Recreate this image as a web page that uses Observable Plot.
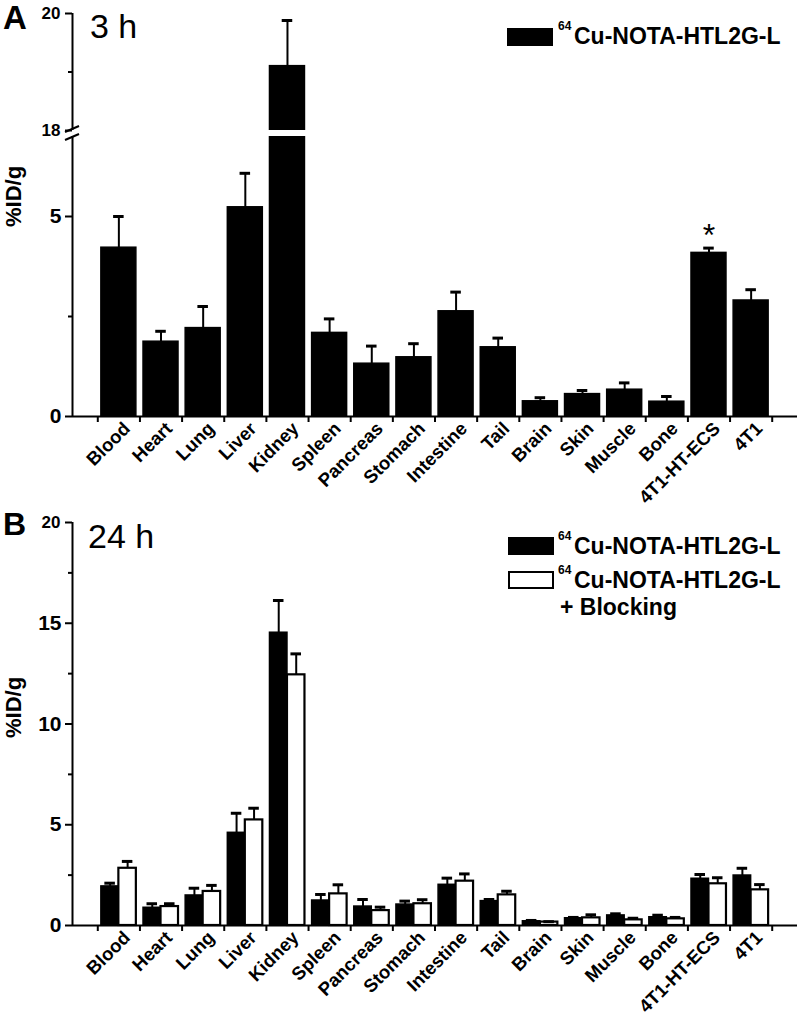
<!DOCTYPE html>
<html><head><meta charset="utf-8">
<script src="https://cdn.jsdelivr.net/npm/d3@7"></script>
<script src="https://cdn.jsdelivr.net/npm/@observablehq/plot@0.6"></script>
<style>
html,body{margin:0;padding:0;background:#fff;}
#fig{position:relative;width:800px;height:1017px;overflow:hidden;font-family:"Liberation Sans",Arial,sans-serif;color:#000;}
.panel{position:absolute;left:0;width:800px;}
.panel svg{display:block;}
.t{position:absolute;white-space:nowrap;line-height:normal;}
.sw{position:absolute;box-sizing:border-box;width:46px;height:18px;border:2px solid #000;}
</style></head><body>
<div id="fig">
<div id="panelA" class="panel" style="top:0"></div>
<div id="panelB" class="panel" style="top:508px"></div>
</div>
<script>
// ---- data ----
const organs = ["Blood","Heart","Lung","Liver","Kidney","Spleen","Pancreas","Stomach","Intestine","Tail","Brain","Skin","Muscle","Bone","4T1-HT-ECS","4T1"];
const mean3h = [4.22,1.87,2.21,5.23,19.1,2.09,1.32,1.48,2.63,1.73,0.38,0.56,0.67,0.37,4.09,2.90];
const sd3h   = [0.78,0.26,0.54,0.85,0.78,0.35,0.44,0.34,0.48,0.23,0.09,0.09,0.17,0.13,0.12,0.27];
const mean24h = [1.94,0.88,1.49,4.60,14.53,1.24,0.94,1.04,2.02,1.21,0.21,0.36,0.50,0.41,2.32,2.48];
const sd24h   = [0.16,0.20,0.36,0.97,1.60,0.30,0.35,0.17,0.33,0.08,0.04,0.04,0.08,0.10,0.21,0.36];
const mean24hBlock = [2.84,0.94,1.69,5.24,12.44,1.57,0.74,1.08,2.20,1.52,0.17,0.38,0.28,0.33,2.07,1.77];
const sd24hBlock   = [0.34,0.14,0.30,0.58,1.04,0.45,0.17,0.20,0.36,0.18,0.02,0.15,0.08,0.07,0.30,0.26];
const yTicksA = [0, 5];
const yTicksATop = [18, 20];
const yMinorA = [2.5, 19];
const yTicksB = [0, 5, 10, 15];
const yTicksBTop = [20];
const yMinorB = [2.5, 7.5, 12.5, 17.5];
const breakLow = 7, breakHigh = 18;
const seriesNames = ["Cu-NOTA-HTL2G-L", "Cu-NOTA-HTL2G-L"];
const significant = "4T1-HT-ECS";

// ---- layout helpers ----
const xDomain = [-0.1, 17.1];
const halfBar = 0.415, cap = 0.125;
const bounds = organs.map((d, i) => i + 0.5).concat([organs.length + 0.5]);
const font = "Liberation Sans, Arial, sans-serif";

const rowsA = organs.map((organ, i) => ({organ, pos: i + 1, mean: mean3h[i], sd: sd3h[i]}));
const rowsB = organs.map((organ, i) => ({organ, pos: i + 1, mean: mean24h[i], sd: sd24h[i], meanB: mean24hBlock[i], sdB: sd24hBlock[i]}));

const common = {
  width: 800, marginLeft: 72, marginRight: 3, marginBottom: 92,
  style: {fontFamily: font, fontWeight: "bold", fontSize: "19px", color: "black", background: "white", overflow: "visible"}
};

function xLabels(rows) {
  return Plot.text(rows, {x: "pos", y: () => 0, text: "organ", rotate: -45, textAnchor: "end", lineAnchor: "top",
    dx: 3, dy: 4, fontSize: 18.5, fontWeight: "bold"});
}
function yLabel(dy) {
  return Plot.text(["%ID/g"], {frameAnchor: "left", text: d => d, rotate: -90, dx: -59, dy, fontSize: 22, fontWeight: "bold"});
}
function axes(ticks, topTicks, minor) {
  return [
    Plot.axisY(ticks, {tickSize: 7, tickPadding: 4, strokeWidth: 2, tickFormat: d => String(d), label: null, fontSize: 21, fontWeight: "bold"}),
    Plot.axisY(topTicks, {tickSize: 7, tickPadding: 5, strokeWidth: 2, tickFormat: d => String(d), label: null, fontSize: 17, fontWeight: "bold"}),
    Plot.axisY(minor, {tickSize: 4, strokeWidth: 2, tickFormat: () => "", label: null}),
    Plot.axisX(bounds, {tickSize: 6, strokeWidth: 2, tickFormat: () => "", label: null}),
    Plot.ruleY([0], {strokeWidth: 2})
  ];
}

// ---- Panel A (3 h, broken axis) ----
const segA = [{from: 0, to: breakLow}, {from: breakHigh, to: 20}];
const plotA = Plot.plot({
  ...common, height: 508, marginTop: 13,
  x: {type: "linear", domain: xDomain, axis: null},
  y: {type: "linear", domain: [0, breakLow, breakHigh, 20], range: [416, 136, 130, 13], axis: null},
  marks: [
    Plot.rect(rowsA, {x1: d => d.pos - halfBar, x2: d => d.pos + halfBar, y1: () => 0, y2: "mean", fill: "black", stroke: "black", strokeWidth: 1.5}),
    Plot.rect(rowsA.filter(d => d.mean > breakHigh), {x1: d => d.pos - 0.5, x2: d => d.pos + 0.5, y1: () => breakLow, y2: () => breakHigh, fill: "white"}),
    Plot.ruleX(rowsA, {x: "pos", y1: "mean", y2: d => d.mean + d.sd, strokeWidth: 2}),
    Plot.ruleY(rowsA, {y: d => d.mean + d.sd, x1: d => d.pos - cap, x2: d => d.pos + cap, strokeWidth: 3}),
    Plot.text(rowsA.filter(d => d.organ === significant), {x: "pos", y: d => d.mean + d.sd, text: () => "*", dy: -12, fontSize: 32, fontWeight: "normal"}),
    Plot.ruleX(segA, {x: () => xDomain[0], y1: "from", y2: "to", strokeWidth: 2}),
    ...axes(yTicksA, yTicksATop, yMinorA),
    (index, scales) => {
      const g = d3.create("svg:g").attr("stroke", "black").attr("stroke-width", 2);
      const x0 = scales.x(xDomain[0]);
      [[breakHigh, -1], [breakLow, 1]].forEach(([v, o]) => {
        const y0 = scales.y(v) + o;
        g.append("line").attr("x1", x0 - 7).attr("y1", y0 + 3).attr("x2", x0 + 7).attr("y2", y0 - 3);
      });
      return g.node();
    },
    xLabels(rowsA),
    yLabel(12)
  ]
});
document.getElementById("panelA").appendChild(plotA);

// ---- Panel B (24 h) ----
const plotB = Plot.plot({
  ...common, height: 509, marginTop: 14,
  x: {type: "linear", domain: xDomain, axis: null},
  y: {type: "linear", domain: [0, 20], axis: null},
  marks: [
    Plot.rect(rowsB, {x1: d => d.pos - halfBar, x2: d => d.pos, y1: () => 0, y2: "mean", fill: "black", stroke: "black", strokeWidth: 1.5}),
    Plot.rect(rowsB, {x1: d => d.pos, x2: d => d.pos + halfBar, y1: () => 0, y2: "meanB", fill: "white", stroke: "black", strokeWidth: 2.2}),
    Plot.ruleX(rowsB, {x: d => d.pos - halfBar / 2, y1: "mean", y2: d => d.mean + d.sd, strokeWidth: 2}),
    Plot.ruleY(rowsB, {y: d => d.mean + d.sd, x1: d => d.pos - halfBar / 2 - cap, x2: d => d.pos - halfBar / 2 + cap, strokeWidth: 3}),
    Plot.ruleX(rowsB, {x: d => d.pos + halfBar / 2, y1: "meanB", y2: d => d.meanB + d.sdB, strokeWidth: 2}),
    Plot.ruleY(rowsB, {y: d => d.meanB + d.sdB, x1: d => d.pos + halfBar / 2 - cap, x2: d => d.pos + halfBar / 2 + cap, strokeWidth: 3}),
    Plot.ruleX([xDomain[0]], {y1: 0, y2: 20, strokeWidth: 2}),
    ...axes(yTicksB, yTicksBTop, yMinorB),
    xLabels(rowsB),
    yLabel(14)
  ]
});
document.getElementById("panelB").appendChild(plotB);

// ---- panel letters, time labels, legends ----
const fig = document.getElementById("fig");
function addText(html, x, baseline, size, weight) {
  const el = document.createElement("div");
  el.className = "t";
  el.innerHTML = html;
  el.style.left = x + "px";
  el.style.top = (baseline - 0.921 * size) + "px";
  el.style.fontSize = size + "px";
  el.style.fontWeight = weight;
  fig.appendChild(el);
}
function addSwatch(x, y, fill) {
  const el = document.createElement("div");
  el.className = "sw";
  el.style.left = x + "px";
  el.style.top = y + "px";
  el.style.background = fill;
  fig.appendChild(el);
}
addText("A", 3, 29, 33, "bold");
addText("3 h", 90, 38, 34, "normal");
addText("B", 3, 535, 32, "bold");
addText("24 h", 88, 548, 34, "normal");

addSwatch(507, 28, "black");
addText("64", 558, 30, 12, "bold");
addText(seriesNames[0], 574, 44, 23, "bold");

addSwatch(508, 537, "black");
addText("64", 558, 540, 12, "bold");
addText(seriesNames[0], 574, 554, 23, "bold");
addSwatch(508, 571, "white");
addText("64", 558, 574, 12, "bold");
addText(seriesNames[1], 574, 588, 23, "bold");
addText("+ Blocking", 560, 615, 23, "bold");
</script>
</body></html>
